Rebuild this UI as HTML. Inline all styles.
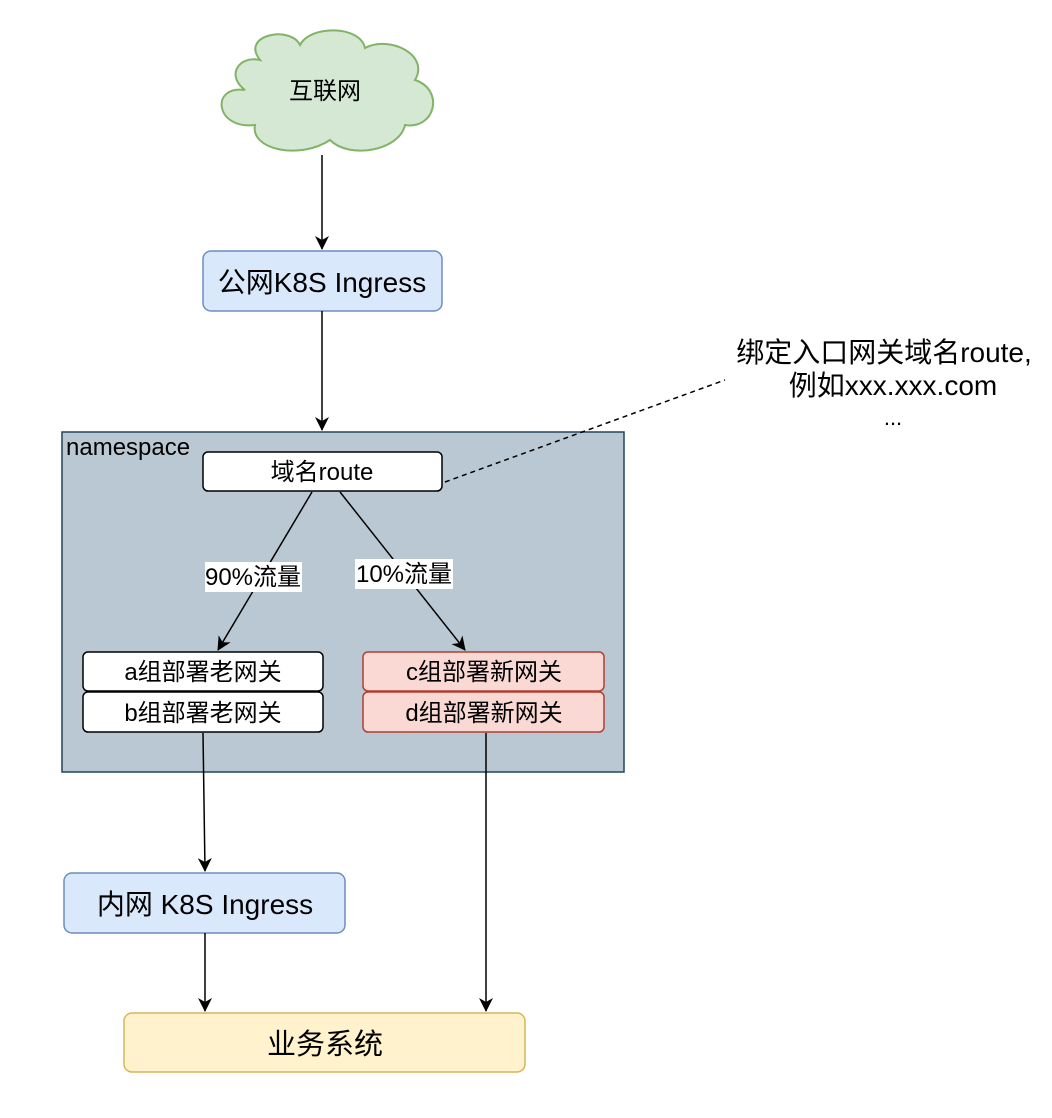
<!DOCTYPE html>
<html><head><meta charset="utf-8"><style>
html,body{margin:0;padding:0;background:#fff;}
svg{display:block;font-family:"Liberation Sans","Noto Sans CJK SC",sans-serif;}
</style></head><body>
<svg width="1052" height="1118" viewBox="0 0 1052 1118" xmlns="http://www.w3.org/2000/svg">
<defs>
<marker id="ar" markerWidth="14" markerHeight="14" refX="13" refY="7" orient="auto" markerUnits="userSpaceOnUse">
<path d="M0,0 L14,7 L0,14 L4,7 Z" fill="#000"/>
</marker>
</defs>
<path d="M260,60 C240,35 290,25 300,45 C310,25 360,25 365,48 C390,35 430,55 415,80 C445,90 435,130 405,125 C400,150 350,160 330,140 C300,160 250,150 255,125 C215,130 210,85 245,90 C225,75 240,55 260,60 Z" fill="#d5e8d4" stroke="#82b366" stroke-width="2"/>
<text x="325" y="99" font-size="24" text-anchor="middle">互联网</text>
<line x1="322" y1="155" x2="322" y2="249" stroke="#000" stroke-width="1.5" marker-end="url(#ar)"/>
<rect x="203" y="251" width="239" height="60" rx="8" fill="#dae8fc" stroke="#6c8ebf" stroke-width="1.5"/>
<text x="322" y="292" font-size="28" text-anchor="middle">公网K8S Ingress</text>
<line x1="322" y1="311" x2="322" y2="430" stroke="#000" stroke-width="1.5" marker-end="url(#ar)"/>
<rect x="62" y="432" width="562" height="340" fill="#bac8d3" stroke="#23445d" stroke-width="1.5"/>
<text x="66" y="455" font-size="24">namespace</text>
<rect x="203" y="452" width="239" height="39" rx="5" fill="#fff" stroke="#000" stroke-width="1.5"/>
<text x="322" y="480" font-size="24" text-anchor="middle">域名route</text>
<line x1="445" y1="482" x2="725" y2="380" stroke="#000" stroke-width="1.5" stroke-dasharray="5,4"/>
<text x="884" y="362" font-size="28" text-anchor="middle">绑定入口网关域名route,</text>
<text x="893" y="395" font-size="28" text-anchor="middle">例如xxx.xxx.com</text>
<text x="893" y="425" font-size="22" text-anchor="middle">...</text>
<line x1="312" y1="492" x2="218" y2="650" stroke="#000" stroke-width="1.5" marker-end="url(#ar)"/>
<line x1="340" y1="492" x2="465" y2="650" stroke="#000" stroke-width="1.5" marker-end="url(#ar)"/>
<rect x="205" y="562" width="97" height="30" fill="#fff"/>
<text x="253" y="585" font-size="24" text-anchor="middle">90%流量</text>
<rect x="355" y="559" width="98" height="30" fill="#fff"/>
<text x="404" y="582" font-size="24" text-anchor="middle">10%流量</text>
<rect x="83" y="652" width="240" height="39" rx="5" fill="#fff" stroke="#000" stroke-width="1.5"/>
<text x="203" y="680" font-size="24" text-anchor="middle">a组部署老网关</text>
<rect x="83" y="692" width="240" height="40" rx="5" fill="#fff" stroke="#000" stroke-width="1.5"/>
<text x="203" y="721" font-size="24" text-anchor="middle">b组部署老网关</text>
<rect x="363" y="652" width="241" height="39" rx="5" fill="#fad9d5" stroke="#ae4132" stroke-width="1.5"/>
<text x="484" y="680" font-size="24" text-anchor="middle">c组部署新网关</text>
<rect x="363" y="692" width="241" height="40" rx="5" fill="#fad9d5" stroke="#ae4132" stroke-width="1.5"/>
<text x="484" y="721" font-size="24" text-anchor="middle">d组部署新网关</text>
<line x1="203" y1="733" x2="205" y2="871" stroke="#000" stroke-width="1.5" marker-end="url(#ar)"/>
<rect x="64" y="873" width="281" height="60" rx="8" fill="#dae8fc" stroke="#6c8ebf" stroke-width="1.5"/>
<text x="205" y="914" font-size="28" text-anchor="middle">内网 K8S Ingress</text>
<line x1="205" y1="933" x2="205" y2="1011" stroke="#000" stroke-width="1.5" marker-end="url(#ar)"/>
<line x1="486" y1="733" x2="486" y2="1011" stroke="#000" stroke-width="1.5" marker-end="url(#ar)"/>
<rect x="124" y="1013" width="401" height="59" rx="8" fill="#fff2cc" stroke="#d6b656" stroke-width="1.5"/>
<text x="325" y="1054" font-size="29" text-anchor="middle">业务系统</text>
</svg>
</body></html>
